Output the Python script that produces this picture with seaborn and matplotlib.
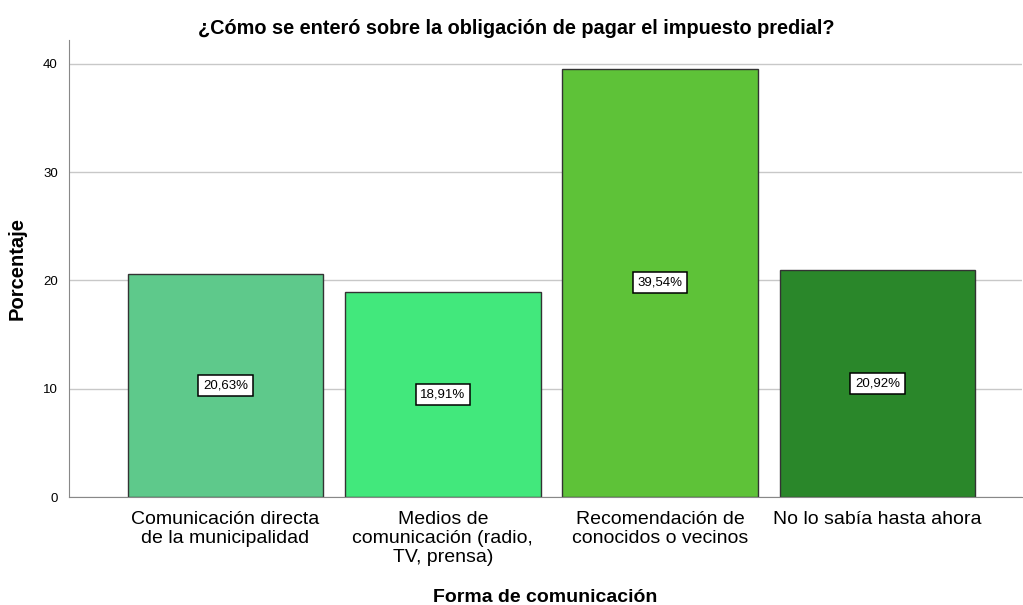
import matplotlib
matplotlib.use("Agg")
import matplotlib.pyplot as plt
import seaborn as sns
import pandas as pd

# data
categorias = [
    "Comunicación directa\nde la municipalidad",
    "Medios de\ncomunicación (radio,\nTV, prensa)",
    "Recomendación de\nconocidos o vecinos",
    "No lo sabía hasta ahora",
]
porcentajes = [20.63, 18.91, 39.54, 20.92]
colores = ["#5ec98b", "#42e87c", "#5ec238", "#2a872a"]
yticks = [0, 10, 20, 30, 40]

sns.set_style("white")
plt.rcParams["font.family"] = ["Liberation Sans", "DejaVu Sans"]
plt.rcParams["text.color"] = "black"
plt.rcParams["axes.labelcolor"] = "black"
plt.rcParams["xtick.color"] = "black"
plt.rcParams["ytick.color"] = "black"

df = pd.DataFrame({"categoria": categorias, "porcentaje": porcentajes})

fig = plt.figure(figsize=(10.23, 6.05), dpi=100)
ax = fig.add_axes([0.0674, 0.1785, 0.9316, 0.7555])

ax.yaxis.grid(True, color="#c8c8c8", linewidth=1)
ax.set_axisbelow(True)

sns.barplot(data=df, x="categoria", y="porcentaje", hue="categoria",
            palette=colores, saturation=1, legend=False, width=0.9,
            edgecolor="#333333", linewidth=1, ax=ax)

# value labels in white boxes at half bar height
for i, v in enumerate(porcentajes):
    txt = f"{v:.2f}%".replace(".", ",")
    ax.text(i, v / 2, txt, ha="center", va="center", fontsize=9.5,
            bbox=dict(boxstyle="square,pad=0.35", facecolor="white",
                      edgecolor="black", linewidth=1.1))

ax.set_xlim(-0.72, 3.665)
ax.set_ylim(0, 42.2)
ax.set_yticks(yticks)
ax.tick_params(axis="y", labelsize=9.5, length=4, color="#888888", pad=4)
ax.tick_params(axis="x", labelsize=14, length=0, pad=10)
for lbl in ax.get_xticklabels():
    lbl.set_linespacing(1.15)

for s in ["top", "right"]:
    ax.spines[s].set_visible(False)
ax.spines["left"].set_color("#888888")
ax.spines["bottom"].set_color("#888888")

ax.set_ylabel("Porcentaje", fontsize=14.5, fontweight="bold", labelpad=12)
ax.set_xlabel("Forma de comunicación", fontsize=14, fontweight="bold", labelpad=17)
fig.suptitle("¿Cómo se enteró sobre la obligación de pagar el impuesto predial?",
             x=0.505, y=0.968, fontsize=14.3, fontweight="bold")

fig.savefig("out.png", dpi=100)
